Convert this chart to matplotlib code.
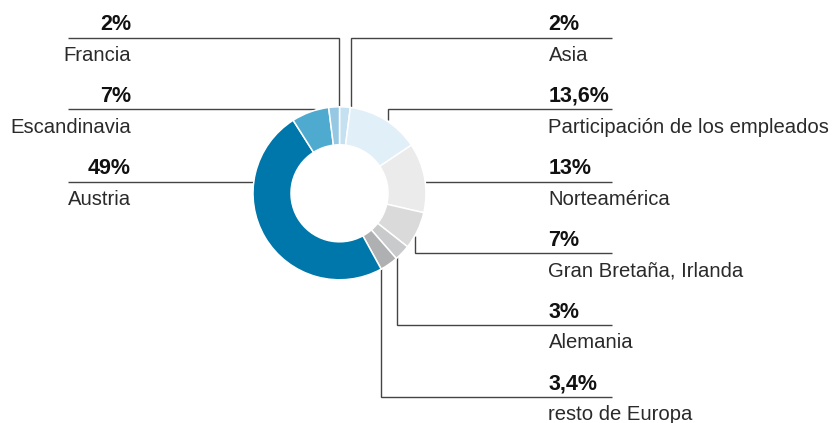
import matplotlib
matplotlib.use("Agg")
import matplotlib.pyplot as plt

# Data (clockwise from 12 o'clock)
labels = ["Asia", "Participación de los empleados", "Norteamérica",
          "Gran Bretaña, Irlanda", "Alemania", "resto de Europa",
          "Austria", "Escandinavia", "Francia"]
values = [2, 13.6, 13, 7, 3, 3.4, 49, 7, 2]
value_labels = ["2%", "13,6%", "13%", "7%", "3%", "3,4%", "49%", "7%", "2%"]
colors = ["#C5E0F0", "#E1EFF8", "#EBEBEB", "#DADADA", "#C9CACB", "#AFB0B2",
          "#0077AA", "#4FAAD0", "#96C8E4"]

W, H = 835, 423
fig = plt.figure(figsize=(W / 100, H / 100), dpi=100)
ax = fig.add_axes([0, 0, 1, 1])

def Y(y):
    return H - y

cx, cy, R, r = 339.5, 193.3, 86.5, 48.5
ax.pie(values, colors=colors, startangle=90, counterclock=False,
       radius=R, center=(cx, Y(cy)), frame=True,
       wedgeprops=dict(width=R - r, edgecolor="white", linewidth=1.1, zorder=3))
ax.set_xlim(0, W)
ax.set_ylim(0, H)
ax.axis("off")

lc = "#444444"
lw = 1.0
font = "Liberation Sans"
fs_lab = 14.6
fs_pct = 15.5

right_x_text = 548.5
right_x_end = 611.5
left_x_text = 131
left_x_start = 68

right_items = [
    (0, 37.7, 351.3, 108),
    (1, 109.3, 387.7, 120),
    (2, 181.7, None, None),
    (3, 253.3, 414.7, 236),
    (4, 325.0, 397.3, 256),
    (5, 396.7, 381.3, 268),
]
for idx, ly, vx, vy in right_items:
    if vx is None:
        ax.plot([cx + R - 1, right_x_end], [Y(ly), Y(ly)], color=lc, lw=lw, zorder=1,
                solid_capstyle="butt")
    else:
        ax.plot([vx, vx, right_x_end], [Y(vy), Y(ly), Y(ly)], color=lc, lw=lw, zorder=1,
                solid_capstyle="butt", solid_joinstyle="miter")
    ax.text(right_x_text, Y(ly - 7.5), value_labels[idx], fontsize=fs_pct,
            fontweight="bold", family=font, ha="left", va="baseline", color="#111111")
    ax.text(right_x_text, Y(ly + 23.5), labels[idx], fontsize=fs_lab,
            family=font, ha="left", va="baseline", color="#2a2a2a")

left_items = [
    (8, 37.7, 339.3, 108),
    (7, 109.3, None, 315),
    (6, 181.7, None, cx - R + 1),
]
for idx, ly, vx, xend in left_items:
    if vx is not None:
        ax.plot([left_x_start, vx, vx], [Y(ly), Y(ly), Y(xend)], color=lc, lw=lw, zorder=1,
                solid_capstyle="butt", solid_joinstyle="miter")
    else:
        ax.plot([left_x_start, xend], [Y(ly), Y(ly)], color=lc, lw=lw, zorder=1,
                solid_capstyle="butt")
    ax.text(left_x_text, Y(ly - 7.5), value_labels[idx], fontsize=fs_pct,
            fontweight="bold", family=font, ha="right", va="baseline", color="#111111")
    ax.text(left_x_text, Y(ly + 23.5), labels[idx], fontsize=fs_lab,
            family=font, ha="right", va="baseline", color="#2a2a2a")

fig.savefig("out.png", dpi=100)
